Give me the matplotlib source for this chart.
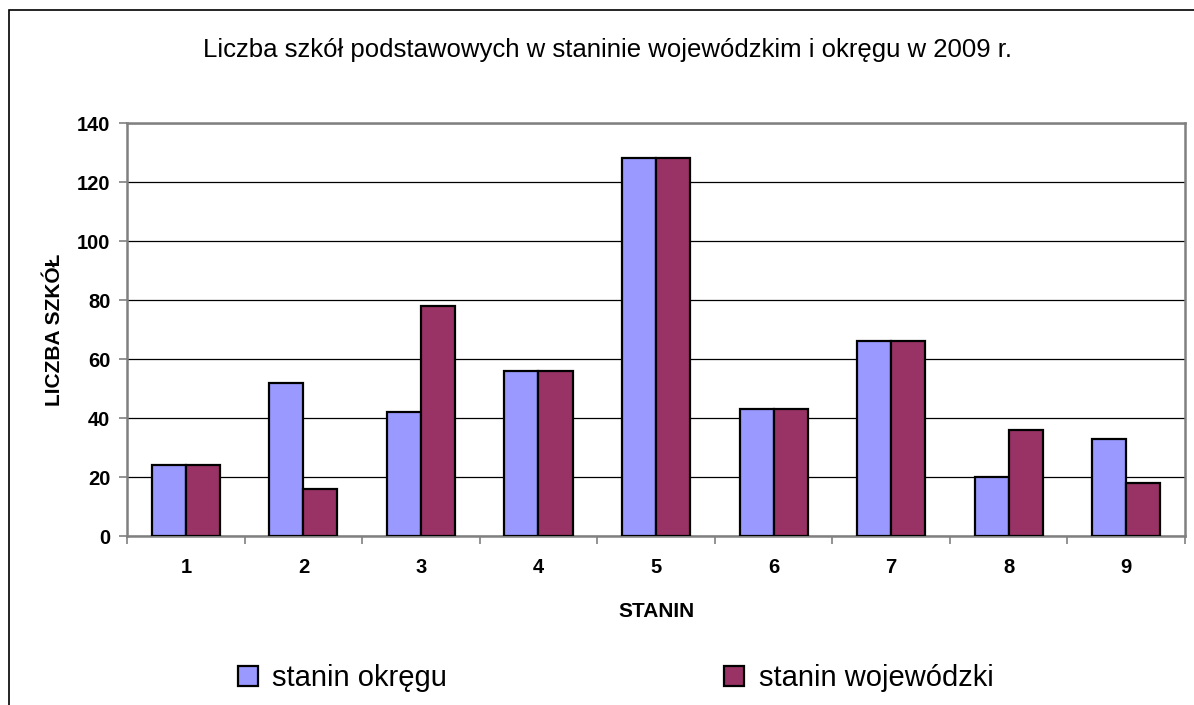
import matplotlib.pyplot as plt
import matplotlib.patches as mpatches
import numpy as np

plt.rcParams['font.family'] = ['Liberation Sans', 'DejaVu Sans']

# data
stanins = ['1', '2', '3', '4', '5', '6', '7', '8', '9']
okregu = [24, 52, 42, 56, 128, 43, 66, 20, 33]
wojewodzki = [24, 16, 78, 56, 128, 43, 66, 36, 18]

fig = plt.figure(figsize=(11.94, 7.05), dpi=100)
ax = fig.add_axes([0.1064, 0.2397, 0.8861, 0.5858])

x = np.arange(1, len(stanins) + 1)
w = 0.29
ax.bar(x - w / 2, okregu, w, color='#9999FF', edgecolor='black', linewidth=1.6,
       label='stanin okręgu', zorder=3)
ax.bar(x + w / 2, wojewodzki, w, color='#993366', edgecolor='black', linewidth=1.6,
       label='stanin wojewódzki', zorder=3)

ax.set_xlim(0.5, len(stanins) + 0.5)
ax.set_ylim(0, 140)
ax.set_yticks(range(0, 141, 20))
ax.yaxis.grid(True, color='black', linewidth=0.9, zorder=0)

# ticks between categories, labels in the middle
ax.set_xticks(np.arange(0.5, len(stanins) + 1, 1.0))
ax.set_xticklabels([])
ax.set_xticks(x, minor=True)
ax.set_xticklabels(stanins, minor=True, fontsize=14.5, fontweight='bold')
ax.tick_params(axis='x', which='minor', length=0, pad=16)
ax.tick_params(axis='x', which='major', length=6, width=1.2, color='#808080')
ax.tick_params(axis='y', length=6, width=1.2, color='#808080', labelsize=14.5, pad=6)
for lab in ax.get_yticklabels():
    lab.set_fontweight('bold')

for s in ax.spines.values():
    s.set_color('#808080')
    s.set_linewidth(1.8)

ax.set_xlabel('STANIN', fontsize=15, fontweight='bold', labelpad=18)
ax.set_ylabel('LICZBA SZKÓŁ', fontsize=15, fontweight='bold', labelpad=9)

fig.text(0.509, 0.929, 'Liczba szkół podstawowych w staninie wojewódzkim i okręgu w 2009 r.',
         ha='center', va='center', fontsize=18.5)

fig.legend(loc='center left', bbox_to_anchor=(0.199, 0.038), ncol=2, frameon=False,
           fontsize=21, handlelength=0.69, handleheight=0.69, handletextpad=0.5,
           columnspacing=9.5, borderaxespad=0, borderpad=0)

# outer chart frame (bottom and right are cut off in the image)
fig.add_artist(mpatches.Rectangle((9 / 1194, -0.2), 1.2, 1.2 - 10 / 705,
                                  transform=fig.transFigure, fill=False,
                                  edgecolor='black', linewidth=1.2, clip_on=False))

fig.savefig('out.png', dpi=100)
